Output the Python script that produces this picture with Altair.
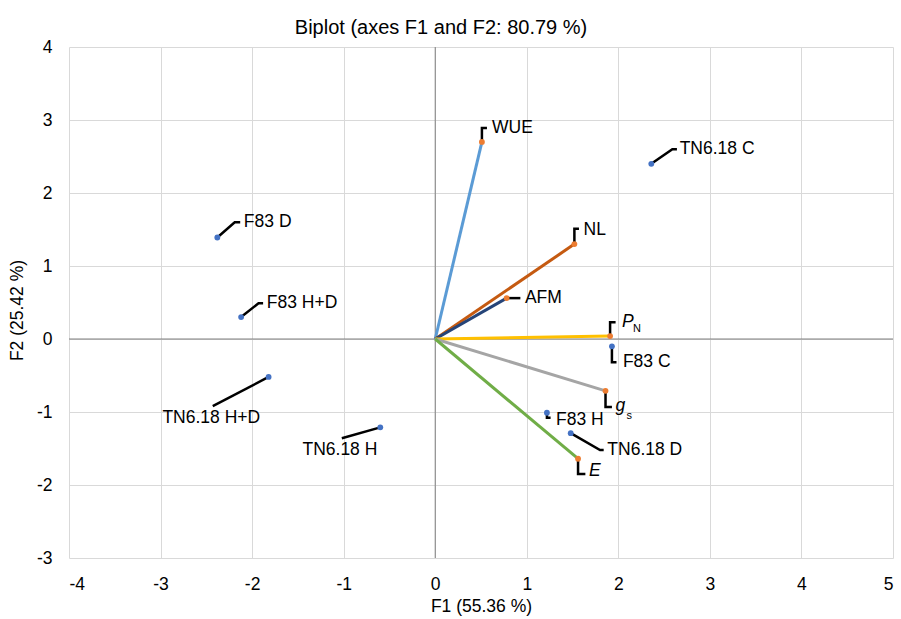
import altair as alt
import pandas as pd

FONT = "Liberation Sans"

# ---- observations (blue points) ----
obs_names = ["F83 D", "F83 H+D", "TN6.18 H+D", "TN6.18 H", "TN6.18 C", "F83 C", "F83 H", "TN6.18 D"]
obs_f1 = [-2.38, -2.12, -1.82, -0.60, 2.36, 1.93, 1.22, 1.48]
obs_f2 = [1.39, 0.30, -0.52, -1.21, 2.40, -0.10, -1.01, -1.29]

# ---- variables (vectors) ----
var_names = ["WUE", "NL", "AFM", "PN", "gs", "E"]
var_f1 = [0.51, 1.52, 0.78, 1.91, 1.86, 1.56]
var_f2 = [2.70, 1.30, 0.56, 0.04, -0.71, -1.64]
var_colors = ["#5B9BD5", "#C55A11", "#264478", "#FFC000", "#A5A5A5", "#70AD47"]

# ---- label callouts (data units): elbow, end of leader, text anchor ----
obs_elbow_x = [-2.19, -1.93, -2.43, -1.02, 2.59, 1.93, 1.22, 1.80]
obs_elbow_y = [1.60, 0.49, -0.92, -1.36, 2.60, -0.32, -1.08, -1.52]
obs_end_x = [-2.13, -1.88, -2.43, -1.02, 2.64, 1.98, 1.26, 1.84]
obs_end_y = [1.60, 0.49, -0.92, -1.36, 2.60, -0.32, -1.08, -1.52]
obs_text_x = [-2.09, -1.84, -2.98, -1.45, 2.67, 2.05, 1.32, 1.88]
obs_text_y = [1.60, 0.49, -1.08, -1.52, 2.60, -0.32, -1.11, -1.52]

var_elbow_x = [0.51, 1.52, 0.93, 1.91, 1.86, 1.56]
var_elbow_y = [2.89, 1.51, 0.56, 0.23, -0.93, -1.85]
var_end_x = [0.565, 1.57, 0.93, 1.97, 1.93, 1.64]
var_end_y = [2.89, 1.51, 0.56, 0.23, -0.93, -1.85]
var_text = ["WUE", "NL", "AFM", "P", "g", "E"]
var_italic = [False, False, False, True, True, True]
var_text_x = [0.62, 1.62, 0.98, 2.04, 1.97, 1.68]
var_text_y = [2.89, 1.50, 0.56, 0.23, -0.92, -1.81]

sub_text = ["N", "s"]
sub_x = [2.16, 2.09]
sub_y = [0.14, -1.05]

x_ticks = list(range(-4, 6))
y_ticks = list(range(-3, 5))

# ---- tables ----
vec_rows = []
for n, x, y in zip(var_names, var_f1, var_f2):
    vec_rows.append({"name": n, "x": 0.0, "y": 0.0, "o": 0})
    vec_rows.append({"name": n, "x": x, "y": y, "o": 1})
vec_df = pd.DataFrame(vec_rows)

obs_df = pd.DataFrame({"name": obs_names, "x": obs_f1, "y": obs_f2})
var_df = pd.DataFrame({"name": var_names, "x": var_f1, "y": var_f2})

lead_rows = []
all_names = obs_names + var_names
px = obs_f1 + var_f1
py = obs_f2 + var_f2
ex = obs_elbow_x + var_elbow_x
ey = obs_elbow_y + var_elbow_y
nx = obs_end_x + var_end_x
ny = obs_end_y + var_end_y
for i, n in enumerate(all_names):
    lead_rows.append({"name": n, "x": px[i], "y": py[i], "o": 0})
    lead_rows.append({"name": n, "x": ex[i], "y": ey[i], "o": 1})
    lead_rows.append({"name": n, "x": nx[i], "y": ny[i], "o": 2})
lead_df = pd.DataFrame(lead_rows)

normal_lab = pd.DataFrame({
    "t": obs_names + [t for t, it in zip(var_text, var_italic) if not it],
    "x": obs_text_x + [v for v, it in zip(var_text_x, var_italic) if not it],
    "y": obs_text_y + [v for v, it in zip(var_text_y, var_italic) if not it],
})
italic_lab = pd.DataFrame({
    "t": [t for t, it in zip(var_text, var_italic) if it],
    "x": [v for v, it in zip(var_text_x, var_italic) if it],
    "y": [v for v, it in zip(var_text_y, var_italic) if it],
})
sub_lab = pd.DataFrame({"t": sub_text, "x": sub_x, "y": sub_y})

X = alt.X("x:Q", scale=alt.Scale(domain=[-4, 5], nice=False, zero=False),
          axis=alt.Axis(values=x_ticks, title="F1 (55.36 %)", grid=True, domain=False,
                        ticks=False, labelPadding=17, titlePadding=5,
                        labelExpr="toString(datum.value)"))
Y = alt.Y("y:Q", scale=alt.Scale(domain=[-3, 4], nice=False, zero=False),
          axis=alt.Axis(values=y_ticks, title="F2 (25.42 %)", grid=True, domain=False,
                        ticks=False, labelPadding=17, titleX=-52, titleY=263,
                        titleBaseline="middle", titleAlign="center", titleAngle=-90,
                        labelExpr="toString(datum.value)"))

zero_x = alt.Chart(pd.DataFrame({"x": [0.0]})).mark_rule(color="#7F7F7F", strokeWidth=1).encode(x=X)
zero_y = alt.Chart(pd.DataFrame({"y": [0.0]})).mark_rule(color="#7F7F7F", strokeWidth=1).encode(y=Y)

vectors = alt.Chart(vec_df).mark_line(strokeWidth=3).encode(
    x=X, y=Y, detail="name:N", order="o:Q",
    color=alt.Color("name:N", scale=alt.Scale(domain=var_names, range=var_colors), legend=None),
)

leaders = alt.Chart(lead_df).mark_line(strokeWidth=2.5, color="black").encode(
    x=X, y=Y, detail="name:N", order="o:Q"
)

obs_pts = alt.Chart(obs_df).mark_circle(size=34, color="#4472C4", opacity=1).encode(x=X, y=Y)
var_pts = alt.Chart(var_df).mark_circle(size=34, color="#ED7D31", opacity=1).encode(x=X, y=Y)

t_norm = alt.Chart(normal_lab).mark_text(align="left", baseline="middle", font=FONT,
                                         fontSize=17.5, color="black").encode(x=X, y=Y, text="t:N")
t_ital = alt.Chart(italic_lab).mark_text(align="left", baseline="middle", font=FONT,
                                         fontSize=17.5, fontStyle="italic", color="black").encode(x=X, y=Y, text="t:N")
t_sub = alt.Chart(sub_lab).mark_text(align="left", baseline="middle", font=FONT,
                                     fontSize=11, color="black").encode(x=X, y=Y, text="t:N")

chart = alt.layer(zero_x, zero_y, vectors, leaders, obs_pts, var_pts, t_norm, t_ital, t_sub).properties(
    width=824, height=511,
    autosize=alt.AutoSizeParams(type="none"),
    padding={"left": 69, "top": 47, "right": 8, "bottom": 61},
    title=alt.TitleParams("Biplot (axes F1 and F2: 80.79 %)", font=FONT, fontSize=20,
                          fontWeight="normal", color="black", anchor="middle", dx=-40, offset=0),
).configure_view(stroke=None).configure_axis(
    labelFont=FONT, labelFontSize=17.5, labelColor="black",
    titleFont=FONT, titleFontSize=17.5, titleColor="black", titleFontWeight="normal",
    gridColor="#D9D9D9", gridWidth=1,
)

chart.save("out.html", embed_options={"renderer": "svg", "actions": False})
